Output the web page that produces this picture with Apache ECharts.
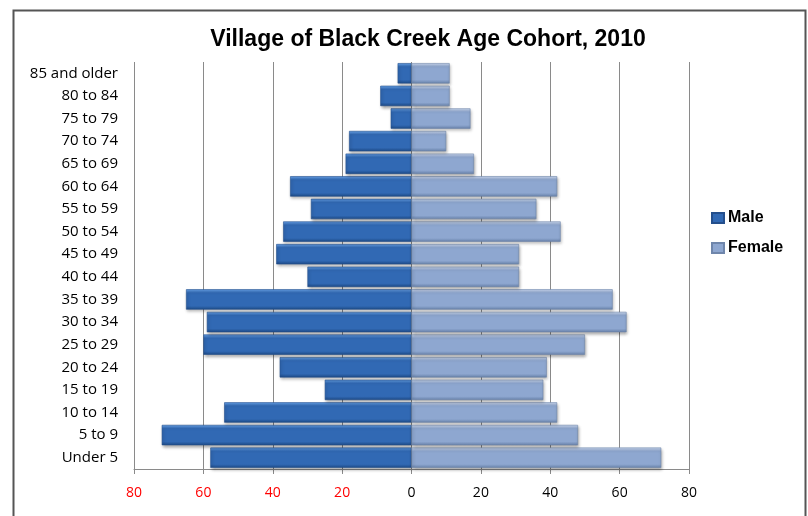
<!DOCTYPE html>
<html>
<head>
<meta charset="utf-8">
<script src="https://cdn.jsdelivr.net/npm/echarts@6/dist/echarts.min.js"></script>
<style>
html,body{margin:0;padding:0;background:#fff;}
#chart{width:808px;height:516px;}
</style>
</head>
<body>
<div id="chart"></div>
<script>
var categories = ['Under 5','5 to 9','10 to 14','15 to 19','20 to 24','25 to 29','30 to 34','35 to 39','40 to 44','45 to 49','50 to 54','55 to 59','60 to 64','65 to 69','70 to 74','75 to 79','80 to 84','85 and older'];
var maleValues = [58, 72, 54, 25, 38, 60, 59, 65, 30, 39, 37, 29, 35, 19, 18, 6, 9, 4];
var femaleValues = [72, 48, 42, 38, 39, 50, 62, 58, 31, 31, 43, 36, 42, 18, 10, 17, 11, 11];
var xTicks = [-80, -60, -40, -20, 0, 20, 40, 60, 80];

var chart = echarts.init(document.getElementById('chart'), null, {renderer: 'canvas'});

function grad(top, mid, bot) {
  return new echarts.graphic.LinearGradient(0, 0, 0, 1, [
    {offset: 0, color: top},
    {offset: 0.18, color: mid},
    {offset: 0.82, color: mid},
    {offset: 1, color: bot}
  ]);
}

var option = {
  animation: false,
  backgroundColor: '#fff',
  title: {
    text: 'Village of Black Creek Age Cohort, 2010',
    left: 423,
    textAlign: 'center',
    top: 23,
    textStyle: {
      fontFamily: '"Liberation Sans Narrow", "Liberation Sans", Arial, sans-serif',
      fontWeight: 'bold',
      fontSize: 23,
      color: '#000'
    }
  },
  legend: {
    orient: 'vertical',
    left: 706,
    top: 205,
    itemWidth: 12,
    itemHeight: 10,
    itemGap: 14,
    icon: 'rect',
    data: ['Male', 'Female'],
    textStyle: {
      fontFamily: '"Liberation Sans Narrow", "Liberation Sans", Arial, sans-serif',
      fontWeight: 'bold',
      fontSize: 16,
      color: '#000',
      padding: [0, 0, 0, -1]
    }
  },
  grid: {
    left: 134,
    right: 119,
    top: 62,
    bottom: 47,
    containLabel: false
  },
  xAxis: {
    type: 'value',
    min: -80,
    max: 80,
    interval: 20,
    axisLine: {show: true, lineStyle: {color: '#8a8a8a', width: 1}},
    axisTick: {show: true, length: 5, lineStyle: {color: '#8a8a8a'}},
    splitLine: {show: true, lineStyle: {color: '#8a8a8a', width: 1}},
    axisLabel: {
      margin: 17,
      fontFamily: '"Open Sans", sans-serif',
      fontSize: 14,
      formatter: function (v) { return String(Math.abs(v)); },
      color: function (v) { return Number(v) < 0 ? '#ff0000' : '#000'; }
    }
  },
  yAxis: {
    type: 'category',
    data: categories,
    axisLine: {show: false},
    axisTick: {show: false},
    axisLabel: {
      margin: 16,
      fontFamily: '"Open Sans", sans-serif',
      fontSize: 15,
      color: '#000'
    }
  },
  series: [
    {
      name: 'Male',
      type: 'bar',
      data: maleValues.map(function (v) { return -v; }),
      barCategoryGap: '10%',
      barGap: '-100%',
      itemStyle: {
        color: grad('#6aa6ee', '#3169b4', '#1d4a86'),
        borderColor: '#244f8c',
        borderWidth: 0.6,
        shadowColor: 'rgba(0,0,0,0.35)',
        shadowBlur: 3,
        shadowOffsetX: 1,
        shadowOffsetY: 2
      }
    },
    {
      name: 'Female',
      type: 'bar',
      data: femaleValues,
      barCategoryGap: '10%',
      barGap: '-100%',
      itemStyle: {
        color: grad('#cfdcf3', '#8ea7d0', '#6781a9'),
        borderColor: '#6f86ab',
        borderWidth: 0.6,
        shadowColor: 'rgba(0,0,0,0.35)',
        shadowBlur: 3,
        shadowOffsetX: 1,
        shadowOffsetY: 2
      }
    }
  ],
  graphic: [
    {
      type: 'rect',
      left: 11,
      top: 8,
      shape: {width: 792, height: 520},
      style: {fill: 'none', stroke: '#555', lineWidth: 2},
      silent: true,
      z: 100
    }
  ]
};
chart.setOption(option);
</script>
</body>
</html>
